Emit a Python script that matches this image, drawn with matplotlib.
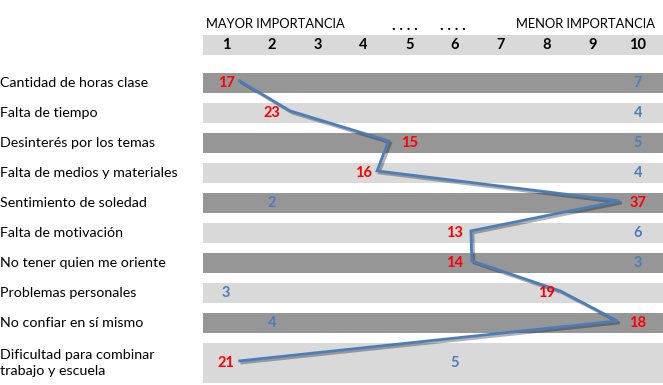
import numpy as np
import matplotlib
matplotlib.use('Agg')
import matplotlib.pyplot as plt
import matplotlib.patheffects as pe

plt.rcParams['font.family'] = ['Lato', 'DejaVu Sans']

# rows, top to bottom
categories = [
    'Cantidad de horas clase',
    'Falta de tiempo',
    'Desinterés por los temas',
    'Falta de medios y materiales',
    'Sentimiento de soledad',
    'Falta de motivación',
    'No tener quien me oriente',
    'Problemas personales',
    'No confiar en sí mismo',
    'Dificultad para combinar\ntrabajo y escuela',
]
columns = list(range(1, 11))

# most frequent ranking (red) and least frequent (blue)
red_col = [1, 2, 5, 4, 10, 6, 6, 8, 10, 1]
red_val = [17, 23, 15, 16, 37, 13, 14, 19, 18, 21]
blue_col = [10, 10, 10, 10, 2, 10, 10, 1, 2, 6]
blue_val = [7, 4, 5, 4, 2, 6, 3, 3, 4, 5]

# where the connecting line touches each row
line_x = [1.3, 2.4, 4.55, 4.3, 9.6, 6.35, 6.37, 8.3, 9.55, 1.3]

DARK = '#969696'
LIGHT = '#d9d9d9'
RED = '#ff0000'
BLUE = '#4a7ebb'

fig = plt.figure(figsize=(6.63, 3.85), dpi=100)
ax = fig.add_axes([0, 0, 1, 1])
ax.set_xlim(-3.937, 10.546)
ax.set_ylim(10.067, -2.767)
ax.axis('off')

# row heights (last row has two text lines)
heights = [2 / 3] * (len(categories) - 1) + [4 / 3]
gap = 1 / 3
centers = []
top = -1 / 3
for h in heights:
    centers.append(top + h / 2)
    top += h + gap

for i, (yc, h) in enumerate(zip(centers, heights)):
    ax.barh(yc, 11, left=0.5, height=h, color=DARK if i % 2 == 0 else LIGHT,
            edgecolor='none')
    ax.text(-3.93, yc, categories[i], ha='left', va='center', fontsize=10.3,
            color='black', linespacing=1.45)

# header band with column numbers
ax.barh(-1.267, 11, left=0.5, height=2 / 3, color=LIGHT, edgecolor='none')
for c in columns:
    ax.text(c, -1.267, str(c), ha='center', va='center', fontsize=10.5,
            fontweight='bold', color='black')
ax.text(0.56, -1.967, 'MAYOR IMPORTANCIA', ha='left', va='center', fontsize=9.3)
ax.text(10.37, -1.967, 'MENOR IMPORTANCIA', ha='right', va='center', fontsize=9.3)
ax.text(4.91, -1.9, '. . . .', ha='center', va='center', fontsize=11, fontweight='bold')
ax.text(5.96, -1.9, '. . . .', ha='center', va='center', fontsize=11, fontweight='bold')

# values
for yc, c, v in zip(centers, red_col, red_val):
    ax.text(c, yc, str(v), ha='center', va='center', fontsize=10.5,
            fontweight='bold', color=RED)
for yc, c, v in zip(centers, blue_col, blue_val):
    ax.text(c, yc, str(v), ha='center', va='center', fontsize=10.5,
            fontweight='bold', color=BLUE)

line_y = [yc - 0.07 for yc in centers]
ax.plot(line_x, line_y, color=BLUE, lw=2, solid_joinstyle='miter',
        path_effects=[pe.SimpleLineShadow(offset=(1.5, -1.5), alpha=0.3),
                      pe.Normal()])

fig.savefig('out.png', dpi=100)
